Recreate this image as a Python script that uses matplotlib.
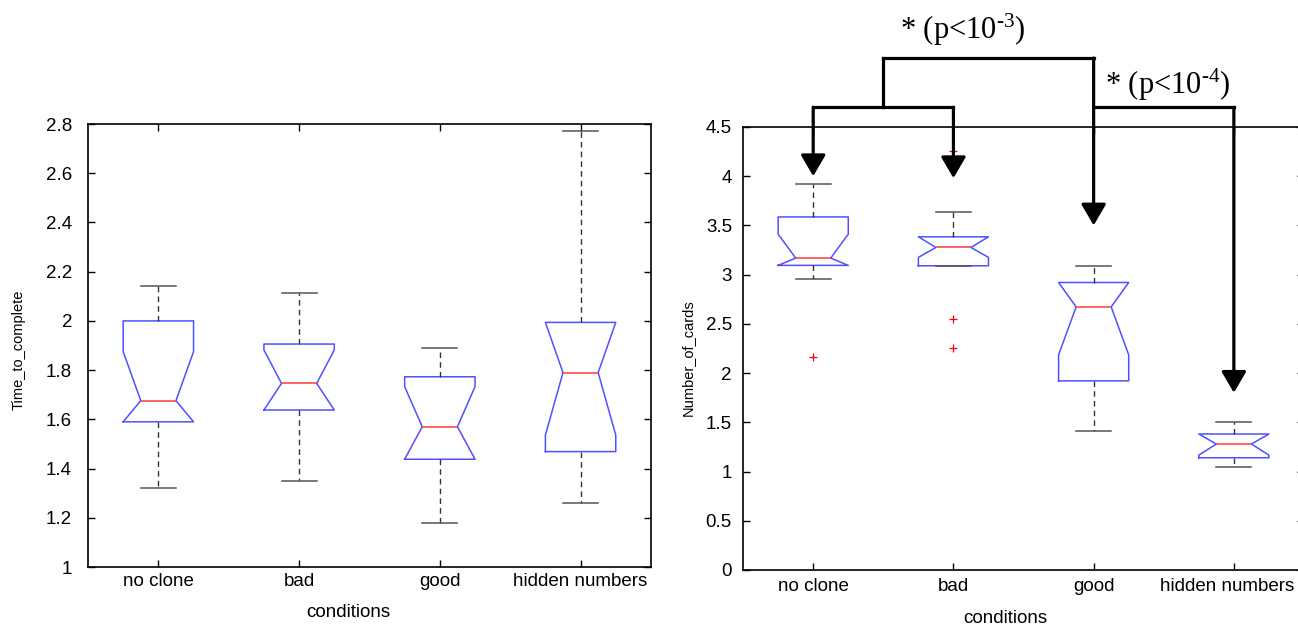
import numpy as np
import matplotlib
matplotlib.use("Agg")
import matplotlib.pyplot as plt
from matplotlib.transforms import ScaledTranslation

plt.rcParams['font.family'] = ['Liberation Sans', 'DejaVu Sans']
plt.rcParams['mathtext.fontset'] = 'custom'
plt.rcParams['mathtext.rm'] = 'Liberation Serif'
plt.rcParams['mathtext.it'] = 'Liberation Serif:italic'

conditions = ["no clone", "bad", "good", "hidden numbers"]

# left panel: Time_to_complete (box stats)
time_whislo = [1.322, 1.351, 1.178, 1.261]
time_q1 = [1.590, 1.638, 1.438, 1.469]
time_cilo = [1.590, 1.638, 1.438, 1.536]
time_med = [1.676, 1.746, 1.570, 1.790]
time_cihi = [1.875, 1.882, 1.733, 1.994]
time_q3 = [2.000, 1.906, 1.773, 1.994]
time_whishi = [2.143, 2.112, 1.890, 2.773]
time_fliers = [[], [], [], []]
time_ticks = [1, 1.2, 1.4, 1.6, 1.8, 2, 2.2, 2.4, 2.6, 2.8]
time_ticklabels = ["1", "1.2", "1.4", "1.6", "1.8", "2", "2.2", "2.4", "2.6", "2.8"]

# right panel: Number_of_cards
cards_whislo = [2.956, 3.090, 1.413, 1.049]
cards_q1 = [3.094, 3.090, 1.921, 1.140]
cards_cilo = [3.094, 3.175, 2.185, 1.167]
cards_med = [3.168, 3.276, 2.672, 1.279]
cards_cihi = [3.411, 3.384, 2.920, 1.381]
cards_q3 = [3.586, 3.384, 2.920, 1.381]
cards_whishi = [3.919, 3.638, 3.090, 1.506]
cards_fliers = [[2.164], [4.257, 2.546, 2.25], [], []]
cards_ticks = [0, 0.5, 1, 1.5, 2, 2.5, 3, 3.5, 4, 4.5]
cards_ticklabels = ["0", "0.5", "1", "1.5", "2", "2.5", "3", "3.5", "4", "4.5"]

# significance brackets on the right panel
arrow_tips = [4.0, 3.98, 3.5, 1.80]
sig_labels = [r"* (p<$10^{\text{-}3}$)", r"* (p<$10^{\text{-}4}$)"]


def make_stats(lo, q1, cilo, med, cihi, q3, hi, fl):
    out = []
    for i in range(len(conditions)):
        out.append(dict(whislo=lo[i], q1=q1[i], cilo=cilo[i], med=med[i],
                        cihi=cihi[i], q3=q3[i], whishi=hi[i],
                        fliers=np.array(fl[i]), label=conditions[i]))
    return out


def draw_panel(ax, stats, ticks, ticklabels, ylim, ylabel, ypad, xpad):
    ax.bxp(stats, positions=range(1, 5), widths=0.5, shownotches=True,
           boxprops=dict(color="#5050ff", lw=1.1),
           medianprops=dict(color="#ff3b3b", lw=1.1),
           whiskerprops=dict(color="#333333", lw=1.0, ls=(0, (4, 3))),
           capprops=dict(color="#555555", lw=1.1),
           flierprops=dict(marker="+", markeredgecolor="red", markersize=6,
                           markeredgewidth=0.9, ls="none"))
    ax.set_xlim(0.5, 4.5)
    ax.set_ylim(*ylim)
    ax.set_yticks(ticks)
    ax.set_yticklabels(ticklabels)
    ax.set_xticks(range(1, 5))
    ax.set_xticklabels(conditions)
    ax.tick_params(direction="in", top=True, right=True, length=5,
                   width=1, labelsize=13.5)
    ax.tick_params(axis="y", pad=ypad)
    ax.tick_params(axis="x", pad=xpad)
    for s in ax.spines.values():
        s.set_linewidth(1.2)
    ax.set_ylabel(ylabel, fontsize=10.5)
    ax.set_xlabel("conditions", fontsize=13.5)


fig = plt.figure(figsize=(12.98, 6.26), dpi=100)

ax1 = fig.add_axes([0.0678, 0.0942, 0.4337, 0.7077])
draw_panel(ax1, make_stats(time_whislo, time_q1, time_cilo, time_med,
                           time_cihi, time_q3, time_whishi, time_fliers),
           time_ticks, time_ticklabels, (1, 2.8), "Time_to_complete", 11.5, 4)
ax1.yaxis.set_label_coords(-0.110, 0.49)
ax1.xaxis.set_label_coords(0.462, -0.084)

ax2 = fig.add_axes([0.5725, 0.0895, 0.4321, 0.7077])
draw_panel(ax2, make_stats(cards_whislo, cards_q1, cards_cilo, cards_med,
                           cards_cihi, cards_q3, cards_whishi, cards_fliers),
           cards_ticks, cards_ticklabels, (0, 4.5), "Number_of_cards", 8, 6)
ax2.yaxis.set_label_coords(-0.0856, 0.48)
ax2.xaxis.set_label_coords(0.467, -0.090)
# last label sits a bit left of its tick, as in the source image
last = ax2.xaxis.get_major_ticks()[3].label1
last.set_transform(last.get_transform() + ScaledTranslation(-5 / 72, 0, fig.dpi_scale_trans))

# brackets with arrows
line_kw = dict(color="black", lw=2.3, clip_on=False, zorder=10,
               solid_capstyle="projecting")
arrow_kw = dict(arrowstyle="-|>,head_length=0.65,head_width=0.38",
                color="black", lw=2.3, shrinkA=0, shrinkB=0,
                mutation_scale=20)
y_low, y_high = 4.70, 5.20
ax2.plot([1, 2], [y_low, y_low], **line_kw)
ax2.plot([1.5, 3], [y_high, y_high], **line_kw)
ax2.plot([1.5, 1.5], [y_low, y_high], **line_kw)
ax2.plot([3, 4], [y_low, y_low], **line_kw)
tops = [y_low, y_low, y_high, y_low]
for i in range(4):
    ax2.annotate("", xy=(i + 1, arrow_tips[i]), xytext=(i + 1, tops[i]),
                 arrowprops=arrow_kw, annotation_clip=False, zorder=10)

ax2.text(2.067, 5.49, sig_labels[0], ha="center", va="center", fontsize=22,
         family="Liberation Serif", clip_on=False)
ax2.text(3.53, 4.93, sig_labels[1], ha="center", va="center", fontsize=22,
         family="Liberation Serif", clip_on=False)

plt.savefig("out.png", dpi=100)
